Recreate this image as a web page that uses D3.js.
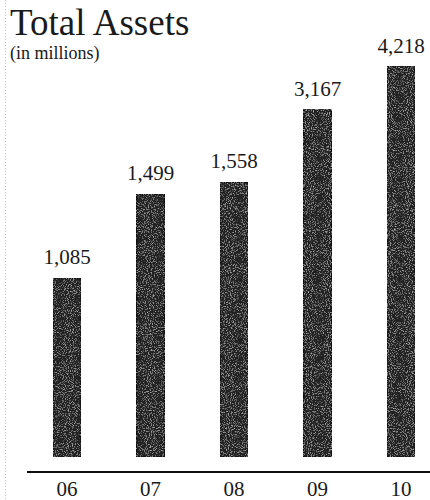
<!DOCTYPE html>
<html>
<head>
<meta charset="utf-8">
<script src="https://cdn.jsdelivr.net/npm/d3@7"></script>
<style>
  html, body { margin: 0; padding: 0; background: #fff; }
  svg { display: block; }
  text { font-family: "Liberation Serif", "DejaVu Serif", serif; fill: #1a1a1a; }
</style>
</head>
<body>
<svg id="chart" width="430" height="500"></svg>
<script>
// Total assets by fiscal year, in millions
const years = ["06", "07", "08", "09", "10"];
const assets = [1085, 1499, 1558, 3167, 4218];
const valueLabels = ["1,085", "1,499", "1,558", "3,167", "4,218"];

const svg = d3.select("#chart");
const W = 430, H = 500;

svg.append("rect").attr("width", W).attr("height", H).attr("fill", "#fff");

// Speckled print texture for the bars
const defs = svg.append("defs");
const grain = defs.append("filter").attr("id", "grain")
  .attr("x", 0).attr("y", 0).attr("width", "100%").attr("height", "100%");
grain.append("feTurbulence").attr("type", "fractalNoise")
  .attr("baseFrequency", 0.95).attr("numOctaves", 2).attr("seed", 4).attr("result", "noise");
grain.append("feColorMatrix").attr("in", "noise").attr("type", "matrix")
  .attr("values", "0 0 0 0 0.5  0 0 0 0 0.5  0 0 0 0 0.5  2.6 0 0 0 -1.35")
  .attr("result", "specks");
grain.append("feComposite").attr("in", "specks").attr("in2", "SourceGraphic")
  .attr("operator", "atop");

// Faint dotted fold line along the left margin
svg.append("line")
  .attr("x1", 5.5).attr("x2", 5.5).attr("y1", 0).attr("y2", H)
  .attr("stroke", "#c2c2c2").attr("stroke-width", 1)
  .attr("stroke-dasharray", "1,2");

// Scales: band for years, broken linear scale for values
const x = d3.scaleBand()
  .domain(years)
  .range([25.25, 442.75])
  .paddingInner(0.665)
  .paddingOuter(0.3325);

const y = d3.scaleLinear()
  .domain([200, 1600, 4500])
  .range([457, 174, 55]);

const baseY = y(200);

// Bars
svg.append("g").selectAll("rect")
  .data(assets)
  .join("rect")
  .attr("x", (d, i) => x(years[i]))
  .attr("y", d => y(d))
  .attr("width", x.bandwidth())
  .attr("height", d => baseY - y(d))
  .attr("fill", "#202020")
  .attr("stroke", "#0a0a0a")
  .attr("stroke-width", 1)
  .attr("filter", "url(#grain)");

// Value labels above bars
svg.append("g").selectAll("text")
  .data(assets)
  .join("text")
  .attr("x", (d, i) => x(years[i]) + x.bandwidth() / 2)
  .attr("y", d => y(d) - 14)
  .attr("text-anchor", "middle")
  .attr("font-size", 21)
  .text((d, i) => valueLabels[i]);

// Baseline axis with year labels
const axis = d3.axisBottom(x).tickSize(0).tickPadding(0);
const axisG = svg.append("g")
  .attr("transform", "translate(0,472)")
  .call(axis);
axisG.select(".domain").remove();
axisG.append("line")
  .attr("x1", 27).attr("x2", W).attr("y1", 0).attr("y2", 0)
  .attr("stroke", "#111").attr("stroke-width", 2.2);
axisG.selectAll(".tick text")
  .attr("dy", null)
  .attr("y", 24)
  .attr("font-size", 21)
  .attr("font-family", "Liberation Serif, serif")
  .attr("fill", "#1a1a1a");

// Title
svg.append("text")
  .attr("x", 10).attr("y", 35)
  .attr("font-size", 37)
  .attr("fill", "#2a2a2a")
  .text("Total Assets");
svg.append("text")
  .attr("x", 10).attr("y", 59)
  .attr("font-size", 18)
  .text("(in millions)");
</script>
</body>
</html>
